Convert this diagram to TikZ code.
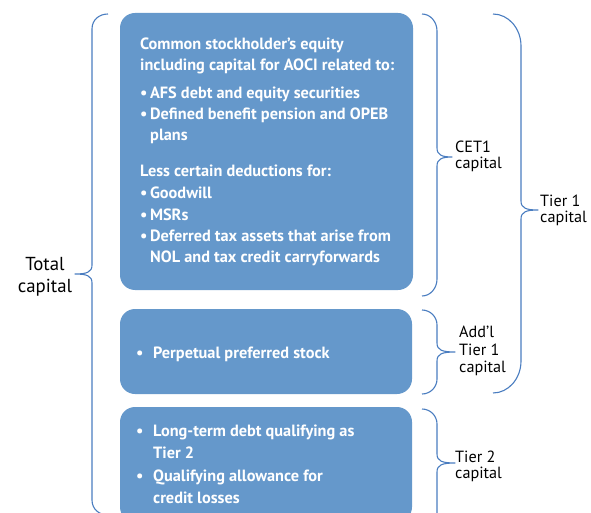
\documentclass[tikz,border=0pt]{standalone}
\usepackage{fontspec}
\setmainfont{PT Sans}
\definecolor{boxblue}{RGB}{101,152,203}
\definecolor{braceblue}{RGB}{74,125,192}
\tikzset{
  boxstyle/.style={fill=boxblue, draw=none, rounded corners=15pt},
  boxtext/.style={anchor=base west, inner sep=0pt, text=white, font=\bfseries\fontsize{16.3}{20}\selectfont},
  lbl/.style={anchor=base west, inner sep=0pt, text=black, font=\fontsize{16.2}{17}\selectfont},
  biglbl/.style={anchor=base, inner sep=0pt, text=black, font=\fontsize{18.8}{21}\selectfont},
  bracestyle/.style={draw=braceblue, line width=1.1pt, line join=round}
}
% right-pointing brace: x0 ends, x1 spine, x2 tip, r end radius
\newcommand{\myBraceR}[7]{%
  \draw[bracestyle] (#1,#4) .. controls ({#1+0.55*(#2-#1)},#4) and (#2,{#4+0.45*#7}) .. (#2,{#4+#7})
    -- (#2,{#5-9}) .. controls (#2,{#5-2}) and ({#2+5},#5) .. (#3,#5)
    .. controls ({#2+5},#5) and (#2,{#5+2}) .. (#2,{#5+9})
    -- (#2,{#6-#7}) .. controls (#2,{#6-0.45*#7}) and ({#1+0.55*(#2-#1)},#6) .. (#1,#6);}
\begin{document}
\begin{tikzpicture}[x=1pt,y=-1pt]
\useasboundingbox (0,0) rectangle (591,513);
\clip (0,0) rectangle (591,513);
% boxes
\path[boxstyle] (120,13) rectangle (413,290);
\path[boxstyle] (120,309) rectangle (412,394);
\path[boxstyle] (120,407) rectangle (412,522);
% box 1 text
\node[boxtext] (t1) at (140,50) {Common stockholder’s equity};
\node[boxtext] (t2) at (140,71) {including capital for AOCI related to:};
\node[boxtext] (t3) at (140,99) {•\kern2.5pt AFS debt and equity securities};
\node[boxtext] (t4) at (140,120) {•\kern2.5pt Defined benefit pension and OPEB};
\node[boxtext] (t5) at (150,141) {plans};
\node[boxtext] (t6) at (140,177) {Less certain deductions for:};
\node[boxtext] (t7) at (140,198) {•\kern2.5pt Goodwill};
\node[boxtext] (t8) at (140,220) {•\kern2.5pt MSRs};
\node[boxtext] (t9) at (140,241) {•\kern2.5pt Deferred tax assets that arise from};
\node[boxtext] (t10) at (150,262) {NOL and tax credit carryforwards};
% box 2 text
\node[boxtext] (u1) at (136,358) {•};
\node[boxtext] (u2) at (153,358) {Perpetual preferred stock};
% box 3 text
\node[boxtext] (v1) at (136,436) {•};
\node[boxtext] (v2) at (153,436) {Long-term debt qualifying as};
\node[boxtext] (v3) at (153,458) {Tier 2};
\node[boxtext] (v4) at (136,481) {•};
\node[boxtext] (v5) at (153,481) {Qualifying allowance for};
\node[boxtext] (v6) at (153,503) {credit losses};
% braces
\myBraceR{422}{437}{452}{14}{157}{296}{17}
\myBraceR{493}{521}{538}{14}{210}{393}{32}
\myBraceR{422}{437}{455}{310}{352}{394}{15}
\myBraceR{422}{437}{455}{409}{463}{560}{15}
% left brace (mirrored)
\draw[bracestyle] (108,14) .. controls (99,14) and (92,20) .. (92,29)
  -- (92,265) .. controls (92,272) and (87,274) .. (75,274)
  .. controls (87,274) and (92,276) .. (92,283)
  -- (92,500) .. controls (92,509) and (99,515) .. (108,515);
% labels
\node[lbl] (cet1a) at (455,153) {CET1};
\node[lbl] (cet1b) at (455,169) {capital};
\node[lbl] (tier1a) at (540,206) {Tier 1};
\node[lbl] (tier1b) at (540,222) {capital};
\node[lbl] (addla) at (459,337) {Add’l};
\node[lbl] (addlb) at (459,355) {Tier 1};
\node[lbl] (addlc) at (459,372) {capital};
\node[lbl] (tier2a) at (455,462) {Tier 2};
\node[lbl] (tier2b) at (455,478) {capital};
\node[biglbl] (totala) at (45,270) {Total};
\node[biglbl] (totalb) at (45,292) {capital};
\end{tikzpicture}
\end{document}
